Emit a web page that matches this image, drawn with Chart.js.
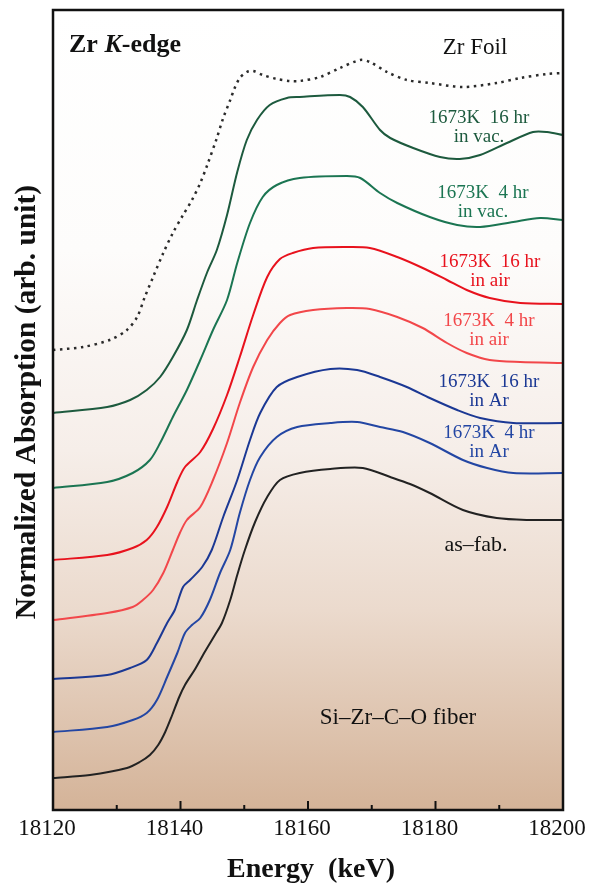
<!DOCTYPE html>
<html>
<head>
<meta charset="utf-8">
<script src="https://cdn.jsdelivr.net/npm/chart.js@4.4.1/dist/chart.umd.min.js"></script>
<style>
html,body{margin:0;padding:0;background:#fff;}
#wrap{width:603px;height:883px;position:relative;}
</style>
</head>
<body>
<div id="wrap"><canvas id="c" width="603" height="883"></canvas></div>
<script>
// ---- data (energy in keV, normalized absorption offset, arb. unit) ----
const foilE = [18120,18124.7,18128.9,18131.6,18133.2,18134.4,18135.7,18137.3,18138.8,18140.4,18141.8,18143.1,18144.2,18145.7,18146.7,18147.8,18148.5,18149.3,18150.4,18151.4,18152.9,18155.1,18157.2,18158.7,18161.9,18165.0,18168.2,18169.7,18172.4,18175.5,18179.1,18184.3,18189.6,18193.3,18197.5,18200];
const foilA = [4.60,4.63,4.70,4.80,4.93,5.13,5.33,5.57,5.77,5.95,6.10,6.27,6.45,6.72,6.92,7.10,7.22,7.32,7.38,7.39,7.35,7.31,7.29,7.29,7.33,7.42,7.50,7.48,7.38,7.30,7.27,7.23,7.27,7.32,7.36,7.37];

const vac16E = [18120,18128.5,18132.1,18134.7,18136.8,18138.8,18141.0,18142.6,18144.2,18145.7,18147.3,18148.9,18150.4,18152.0,18154.0,18156.7,18158.7,18165.0,18166.6,18168.6,18171.3,18172.9,18176.5,18180.7,18183.8,18187.0,18191.2,18195.3,18197.5,18200];
const vac16A = [3.97,4.03,4.10,4.20,4.33,4.53,4.80,5.10,5.38,5.60,5.95,6.38,6.70,6.90,7.05,7.12,7.13,7.15,7.13,7.03,6.80,6.72,6.62,6.53,6.51,6.55,6.67,6.78,6.78,6.75];

const vac4E = [18120,18128.5,18132.5,18135.2,18136.8,18138.8,18141.0,18143.1,18145.1,18147.3,18148.9,18150.9,18152.9,18155.1,18158.7,18166.1,18168.2,18171.3,18174.0,18179.1,18183.4,18187.0,18192.2,18196.4,18200];
const vac4A = [3.22,3.28,3.37,3.50,3.67,3.93,4.20,4.50,4.80,5.10,5.47,5.87,6.13,6.25,6.32,6.34,6.32,6.17,6.07,5.93,5.85,5.83,5.88,5.92,5.90];

const air16E = [18120,18128.5,18132.5,18134.7,18136.3,18137.9,18139.5,18140.7,18143.1,18145.1,18147.3,18149.3,18151.4,18153.6,18155.6,18157.6,18160.8,18166.1,18169.7,18174.0,18178.0,18181.8,18184.9,18188.5,18193.3,18200];
const air16A = [2.50,2.55,2.62,2.70,2.83,3.03,3.28,3.43,3.58,3.81,4.15,4.53,4.95,5.33,5.51,5.57,5.62,5.63,5.62,5.53,5.42,5.30,5.20,5.12,5.07,5.06];

const air4E = [18120,18128.5,18132.5,18134.1,18135.7,18137.3,18138.8,18139.9,18141.0,18143.1,18145.1,18147.3,18149.3,18151.4,18153.6,18155.6,18157.2,18160.8,18166.1,18169.7,18174.0,18178.0,18181.8,18184.9,18188.5,18193.3,18200];
const air4A = [1.90,1.97,2.03,2.10,2.20,2.37,2.60,2.77,2.90,3.03,3.30,3.67,4.07,4.43,4.70,4.87,4.95,5.00,5.02,5.01,4.93,4.82,4.67,4.57,4.50,4.48,4.47];

const ar16E = [18120,18128.5,18132.1,18134.7,18136.3,18137.9,18139.1,18140.4,18141.5,18143.4,18144.9,18146.7,18148.9,18150.9,18152.5,18155.1,18158.3,18163.5,18167.7,18171.3,18175.5,18179.1,18183.4,18187.0,18192.2,18200];
const ar16A = [1.31,1.35,1.42,1.50,1.67,1.87,2.00,2.23,2.30,2.43,2.60,2.93,3.30,3.70,3.97,4.23,4.33,4.41,4.40,4.33,4.23,4.12,4.00,3.92,3.87,3.87];

const ar4E = [18120,18128.5,18132.5,18134.7,18136.3,18137.9,18139.5,18140.7,18141.8,18143.1,18144.6,18146.2,18147.8,18149.3,18150.9,18152.5,18155.1,18158.3,18163.5,18167.7,18171.3,18174.9,18179.1,18184.3,18188.1,18192.2,18200];
const ar4A = [0.78,0.83,0.90,0.97,1.10,1.33,1.57,1.77,1.85,1.92,2.10,2.37,2.60,2.97,3.30,3.53,3.73,3.83,3.87,3.88,3.83,3.78,3.67,3.50,3.42,3.37,3.37];

const fabE = [18120,18125.8,18131.6,18133.6,18135.2,18136.5,18137.6,18138.7,18139.8,18140.7,18142.3,18143.8,18145.4,18146.5,18147.8,18148.9,18150.1,18151.7,18153.6,18155.6,18158.7,18163.5,18168.6,18172.9,18176.0,18179.1,18184.3,18189.6,18194.8,18200];
const fabA = [0.32,0.35,0.42,0.48,0.55,0.65,0.78,0.95,1.13,1.25,1.41,1.58,1.75,1.87,2.10,2.35,2.60,2.88,3.13,3.30,3.37,3.41,3.42,3.33,3.26,3.17,3.00,2.92,2.90,2.90];

const xTicks = [18120,18140,18160,18180,18200];
const xTitle = 'Energy  (keV)';
const yTitle = 'Normalized Absorption (arb. unit)';

const C = {
  foil:'#2a2a2a', vac16:'#1d5a3e', vac4:'#1b7552', air16:'#e8121d', air4:'#f2474a',
  ar16:'#1b3894', ar4:'#2346a3', fab:'#222222'
};

function pts(E,A){ return E.map((e,i)=>({x:e,y:A[i]})); }
function ds(label,E,A,color,dash){
  return {label, data:pts(E,A), borderColor:color, borderWidth:dash?2.5:2, pointRadius:0,
    tension:0.3, fill:false, borderDash:dash||[], borderCapStyle:'butt'};
}

const labels = [
  {lines:['Zr Foil'], x:475, y:48, color:'#111', size:23},
  {lines:['1673K  16 hr','in vac.'], x:479, y:118, color:C.vac16, size:19},
  {lines:['1673K  4 hr','in vac.'], x:483, y:193, color:C.vac4, size:19},
  {lines:['1673K  16 hr','in air'], x:490, y:262, color:C.air16, size:19},
  {lines:['1673K  4 hr','in air'], x:489, y:321, color:C.air4, size:19},
  {lines:['1673K  16 hr','in Ar'], x:489, y:382, color:C.ar16, size:19},
  {lines:['1673K  4 hr','in Ar'], x:489, y:433, color:C.ar4, size:19},
  {lines:['as\u2013fab.'], x:476, y:545, color:'#111', size:22},
  {lines:['Si\u2013Zr\u2013C\u2013O fiber'], x:398, y:718, color:'#111', size:23}
];

const SERIF = '"Liberation Serif","Times New Roman",serif';

const deco = {
  id:'deco',
  beforeDraw(chart){
    const {ctx, chartArea:a} = chart;
    ctx.save();
    ctx.fillStyle = '#fff';
    ctx.fillRect(0,0,chart.width,chart.height);
    const g = ctx.createLinearGradient(0,a.top,0,a.bottom);
    g.addColorStop(0,'#ffffff');
    g.addColorStop(0.3,'#fdfcfb');
    g.addColorStop(0.55,'#f6eee9');
    g.addColorStop(0.75,'#ebdacd');
    g.addColorStop(1,'#d4b398');
    ctx.fillStyle = g;
    ctx.fillRect(a.left,a.top,a.right-a.left,a.bottom-a.top);
    ctx.restore();
  },
  afterDraw(chart){
    const {ctx, chartArea:a} = chart;
    const xs = chart.scales.x;
    ctx.save();
    // frame
    ctx.strokeStyle = '#111';
    ctx.lineWidth = 2.5;
    ctx.strokeRect(a.left,a.top,a.right-a.left,a.bottom-a.top);
    // inward ticks
    ctx.lineWidth = 2;
    xs.ticks.forEach(t=>{
      const px = xs.getPixelForValue(t.value);
      const major = (t.value - 18120) % 20 === 0;
      ctx.beginPath();
      ctx.moveTo(px, a.bottom);
      ctx.lineTo(px, a.bottom - (major ? 9 : 5));
      ctx.stroke();
    });
    // annotation labels
    ctx.textAlign = 'center';
    ctx.textBaseline = 'middle';
    labels.forEach(l=>{
      ctx.fillStyle = l.color;
      ctx.font = l.size + 'px ' + SERIF;
      l.lines.forEach((s,i)=>ctx.fillText(s, l.x, l.y + i*19));
    });
    // Zr K-edge
    ctx.fillStyle = '#111';
    ctx.textAlign = 'left';
    let x0 = 69, y0 = 45;
    ctx.font = 'bold 26px ' + SERIF;
    ctx.fillText('Zr ', x0, y0); x0 += ctx.measureText('Zr ').width;
    ctx.font = 'italic bold 26px ' + SERIF;
    ctx.fillText('K', x0, y0); x0 += ctx.measureText('K').width;
    ctx.font = 'bold 26px ' + SERIF;
    ctx.fillText('-edge', x0, y0);
    // axis titles
    ctx.textAlign = 'center';
    ctx.font = 'bold 28px ' + SERIF;
    ctx.fillText(xTitle, (a.left+a.right)/2 + 3, 870);
    ctx.translate(27, 402);
    ctx.rotate(-Math.PI/2);
    ctx.font = 'bold 29.5px ' + SERIF;
    ctx.fillText(yTitle, 0, 0);
    ctx.restore();
  }
};

new Chart(document.getElementById('c'), {
  type:'line',
  data:{ datasets:[
    ds('Zr Foil', foilE, foilA, C.foil, [2.5,4.5]),
    ds('1673K 16 hr in vac.', vac16E, vac16A, C.vac16),
    ds('1673K 4 hr in vac.', vac4E, vac4A, C.vac4),
    ds('1673K 16 hr in air', air16E, air16A, C.air16),
    ds('1673K 4 hr in air', air4E, air4A, C.air4),
    ds('1673K 16 hr in Ar', ar16E, ar16A, C.ar16),
    ds('1673K 4 hr in Ar', ar4E, ar4A, C.ar4),
    ds('as-fab.', fabE, fabA, C.fab)
  ]},
  options:{
    responsive:false, animation:false, devicePixelRatio:1,
    layout:{padding:{left:53, right:40, top:10, bottom:0}},
    plugins:{legend:{display:false}, tooltip:{enabled:false}},
    scales:{
      x:{type:'linear', min:18120, max:18200,
        grid:{display:false, drawTicks:false}, border:{display:false},
        ticks:{stepSize:10, padding:5, labelOffset:-6, color:'#111', maxRotation:0, autoSkip:false,
          font:{family:SERIF, size:23},
          callback:(v)=> xTicks.includes(v) ? String(v) : ''},
        afterFit:(s)=>{ s.height = 73; }
      },
      y:{type:'linear', min:0, max:8, display:false}
    }
  },
  plugins:[deco]
});
</script>
</body>
</html>
